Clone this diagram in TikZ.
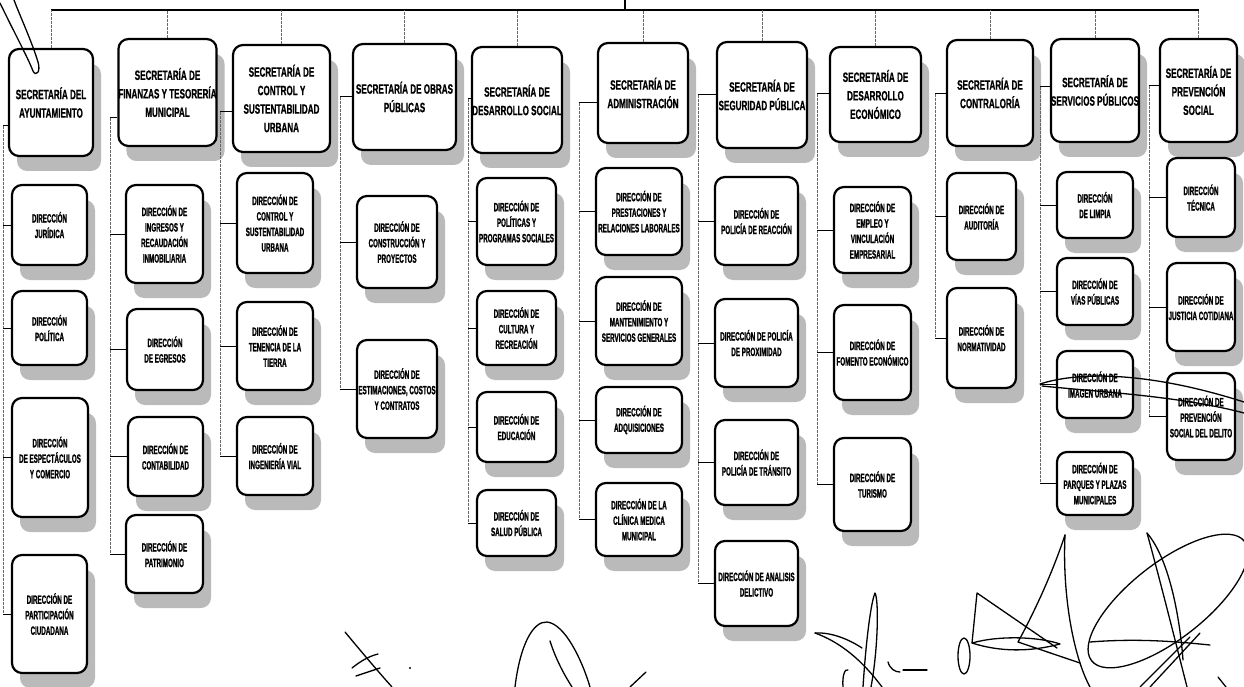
\documentclass[tikz,border=0pt]{standalone}
\usepackage{fontspec}
\newfontfamily\secf[FakeStretch=0.6,FakeBold=0.8]{Liberation Sans}
\newfontfamily\dirf[FakeStretch=0.52,FakeBold=1.2]{Liberation Sans}
\usetikzlibrary{shadows}
\tikzset{
 box/.style={draw=black, line width=2.2pt, rounded corners=10pt, fill=white, inner sep=0pt, align=center,
   drop shadow={shadow xshift=8pt, shadow yshift=-15pt, fill=black!27, opacity=1}},
 sec/.style={box, font=\secf\bfseries\fontsize{13.5}{18.5}\selectfont},
 dir/.style={box, font=\dirf\bfseries\fontsize{12}{15.5}\selectfont},
 trunk/.style={draw=black!60, line width=0.7pt, dash pattern=on 3pt off 1pt},
 tick/.style={draw=black, line width=1pt},
 barline/.style={draw=black, line width=1.3pt},
 ink/.style={draw=black, line width=1.3pt, line cap=round, line join=round},
}
\newcommand\mkbox[7]{%
 \pgfmathsetmacro\bxcx{(#2+#4)/2}%
 \pgfmathsetmacro\bxcy{(#3+#5)/2}%
 \pgfmathsetmacro\bxw{#4-#2}%
 \pgfmathsetmacro\bxh{#5-#3}%
 \node[#6, minimum width=\bxw pt, minimum height=\bxh pt] (#1) at (\bxcx,\bxcy) {#7};%
}
\begin{document}
\begin{tikzpicture}[x=1pt,y=-1pt]
\useasboundingbox (0,0) rectangle (1244,687);
% secretarias
\mkbox{s1}{9}{49}{93}{156}{sec}{SECRETARÍA DEL\\AYUNTAMIENTO}
\mkbox{s2}{120}{39}{215}{146}{sec}{SECRETARÍA DE\\FINANZAS Y TESORERÍA\\MUNICIPAL}
\mkbox{s3}{233}{45}{330}{152}{sec}{SECRETARÍA DE\\CONTROL Y\\SUSTENTABILIDAD\\URBANA}
\mkbox{s4}{353}{44}{456}{150}{sec}{SECRETARÍA DE OBRAS\\PÚBLICAS}
\mkbox{s5}{472}{47}{562}{153}{sec}{SECRETARÍA DE\\DESARROLLO SOCIAL}
\mkbox{s6}{598}{43}{688}{143}{sec}{SECRETARÍA DE\\ADMINISTRACIÓN}
\mkbox{s7}{717}{42}{807}{148}{sec}{SECRETARÍA DE\\SEGURIDAD PÚBLICA}
\mkbox{s8}{830}{47}{921}{142}{sec}{SECRETARÍA DE\\DESARROLLO\\ECONÓMICO}
\mkbox{s9}{947}{40}{1033}{146}{sec}{SECRETARÍA DE\\CONTRALORÍA}
\mkbox{s10}{1053}{39}{1137}{142}{sec}{SECRETARÍA DE\\SERVICIOS PÚBLICOS}
\mkbox{s11}{1160}{39}{1237}{142}{sec}{SECRETARÍA DE\\PREVENCIÓN\\SOCIAL}
% direcciones
\mkbox{c1a}{12}{185}{87}{265}{dir}{DIRECCIÓN\\JURÍDICA}
\mkbox{c1b}{12}{291}{87}{365}{dir}{DIRECCIÓN\\POLÍTICA}
\mkbox{c1c}{12}{398}{88}{517}{dir}{DIRECCIÓN\\DE ESPECTÁCULOS\\Y COMERCIO}
\mkbox{c1d}{12}{555}{87}{673}{dir}{DIRECCIÓN DE\\PARTICIPACIÓN\\CIUDADANA}
\mkbox{c2a}{126}{185}{203}{283}{dir}{DIRECCIÓN DE\\INGRESOS Y\\RECAUDACIÓN\\INMOBILIARIA}
\mkbox{c2b}{127}{309}{203}{390}{dir}{DIRECCIÓN\\DE EGRESOS}
\mkbox{c2c}{128}{417}{203}{496}{dir}{DIRECCIÓN DE\\CONTABILIDAD}
\mkbox{c2d}{126}{515}{203}{593}{dir}{DIRECCIÓN DE\\PATRIMONIO}
\mkbox{c3a}{237}{173}{313}{273}{dir}{DIRECCIÓN DE\\CONTROL Y\\SUSTENTABILIDAD\\URBANA}
\mkbox{c3b}{237}{302}{313}{390}{dir}{DIRECCIÓN DE\\TENENCIA DE LA\\TIERRA}
\mkbox{c3c}{237}{417}{313}{495}{dir}{DIRECCIÓN DE\\INGENIERÍA VIAL}
\mkbox{c4a}{357}{196}{437}{288}{dir}{DIRECCIÓN DE\\CONSTRUCCIÓN Y\\PROYECTOS}
\mkbox{c4b}{357}{340}{437}{438}{dir}{DIRECCIÓN DE\\ESTIMACIONES, COSTOS\\Y CONTRATOS}
\mkbox{c5a}{477}{178}{556}{265}{dir}{DIRECCIÓN DE\\POLÍTICAS Y\\PROGRAMAS SOCIALES}
\mkbox{c5b}{477}{291}{556}{365}{dir}{DIRECCIÓN DE\\CULTURA Y\\RECREACIÓN}
\mkbox{c5c}{477}{392}{556}{462}{dir}{DIRECCIÓN DE\\EDUCACIÓN}
\mkbox{c5d}{477}{490}{556}{556}{dir}{DIRECCIÓN DE\\SALUD PÚBLICA}
\mkbox{c6a}{596}{168}{682}{255}{dir}{DIRECCIÓN DE\\PRESTACIONES Y\\RELACIONES LABORALES}
\mkbox{c6b}{596}{277}{682}{365}{dir}{DIRECCIÓN DE\\MANTENIMIENTO Y\\SERVICIOS GENERALES}
\mkbox{c6c}{596}{387}{682}{453}{dir}{DIRECCIÓN DE\\ADQUISICIONES}
\mkbox{c6d}{596}{483}{682}{556}{dir}{DIRECCIÓN DE LA\\CLÍNICA MEDICA\\MUNICIPAL}
\mkbox{c7a}{715}{177}{798}{265}{dir}{DIRECCIÓN DE\\POLICÍA DE REACCIÓN}
\mkbox{c7b}{715}{299}{798}{387}{dir}{DIRECCIÓN DE POLICÍA\\DE PROXIMIDAD}
\mkbox{c7c}{715}{420}{798}{505}{dir}{DIRECCIÓN DE\\POLICÍA DE TRÁNSITO}
\mkbox{c7d}{715}{541}{798}{626}{dir}{DIRECCIÓN DE ANALISIS\\DELICTIVO}
\mkbox{c8a}{834}{187}{911}{273}{dir}{DIRECCIÓN DE\\EMPLEO Y\\VINCULACIÓN\\EMPRESARIAL}
\mkbox{c8b}{834}{305}{911}{400}{dir}{DIRECCIÓN DE\\FOMENTO ECONÓMICO}
\mkbox{c8c}{834}{438}{911}{531}{dir}{DIRECCIÓN DE\\TURISMO}
\mkbox{c9a}{947}{173}{1016}{260}{dir}{DIRECCIÓN DE\\AUDITORÍA}
\mkbox{c9b}{947}{288}{1016}{388}{dir}{DIRECCIÓN DE\\NORMATIVIDAD}
\mkbox{c10a}{1057}{172}{1133}{238}{dir}{DIRECCIÓN\\DE LIMPIA}
\mkbox{c10b}{1057}{258}{1133}{325}{dir}{DIRECCIÓN DE\\VÍAS PÚBLICAS}
\mkbox{c10c}{1057}{351}{1133}{418}{dir}{DIRECCIÓN DE\\IMAGEN URBANA}
\mkbox{c10d}{1057}{452}{1133}{515}{dir}{DIRECCIÓN DE\\PARQUES Y PLAZAS\\MUNICIPALES}
\mkbox{c11a}{1167}{158}{1235}{237}{dir}{DIRECCIÓN\\TÉCNICA}
\mkbox{c11b}{1167}{263}{1235}{351}{dir}{DIRECCIÓN DE\\JUSTICIA COTIDIANA}
\mkbox{c11c}{1167}{373}{1235}{460}{dir}{DIRECCIÓN DE\\PREVENCIÓN\\SOCIAL DEL DELITO}
% top bar
\coordinate (top) at (625,0);
\coordinate (bar) at (625,10);
\draw[barline] (s1.north |- bar) -- (s11.north |- bar);
\draw[barline] (top) -- (bar);
\foreach \i in {1,...,11} \draw[trunk] (s\i.north) -- (s\i.north |- bar);
% trunk points
\coordinate (k1) at (3,126);
\coordinate (k2) at (110,118);
\coordinate (k3) at (220,112);
\coordinate (k4) at (340,97);
\coordinate (k5) at (468,99);
\coordinate (k6) at (579,103);
\coordinate (k7) at (698,95);
\coordinate (k8) at (817,94);
\coordinate (k9) at (935,94);
\coordinate (k10) at (1040,87);
\coordinate (k11) at (1149,86);
\foreach \i in {1,...,11} \draw[tick] (k\i) -- (k\i -| s\i.west);
\draw[trunk] (k1) -- (k1 |- c1d.west);
\draw[trunk] (k2) -- (k2 |- c2d.west);
\draw[trunk] (k3) -- (k3 |- c3c.west);
\draw[trunk] (k4) -- (k4 |- c4b.west);
\draw[trunk] (k5) -- (k5 |- c5d.west);
\draw[trunk] (k6) -- (k6 |- c6d.west);
\draw[trunk] (k7) -- (k7 |- c7d.west);
\draw[trunk] (k8) -- (k8 |- c8c.west);
\draw[trunk] (k9) -- (k9 |- c9b.west);
\draw[trunk] (k10) -- (k10 |- c10d.west);
\draw[trunk] (k11) -- (k11 |- c11c.west);
\foreach \c in {c1a,c1b,c1c,c1d} \draw[tick] (\c.west) -- (\c.west -| k1);
\foreach \c in {c2a,c2b,c2c,c2d} \draw[tick] (\c.west) -- (\c.west -| k2);
\foreach \c in {c3a,c3b,c3c} \draw[tick] (\c.west) -- (\c.west -| k3);
\foreach \c in {c4a,c4b} \draw[tick] (\c.west) -- (\c.west -| k4);
\foreach \c in {c5a,c5b,c5c,c5d} \draw[tick] (\c.west) -- (\c.west -| k5);
\foreach \c in {c6a,c6b,c6c,c6d} \draw[tick] (\c.west) -- (\c.west -| k6);
\foreach \c in {c7a,c7b,c7c,c7d} \draw[tick] (\c.west) -- (\c.west -| k7);
\foreach \c in {c8a,c8b,c8c} \draw[tick] (\c.west) -- (\c.west -| k8);
\foreach \c in {c9a,c9b} \draw[tick] (\c.west) -- (\c.west -| k9);
\foreach \c in {c10a,c10b,c10c,c10d} \draw[tick] (\c.west) -- (\c.west -| k10);
\foreach \c in {c11a,c11b,c11c} \draw[tick] (\c.west) -- (\c.west -| k11);
% handwritten strokes
\draw[ink] (0,3) .. controls (14,32) and (28,58) .. (33,71) .. controls (36,77) and (41,72) .. (38,62) .. controls (32,42) and (20,16) .. (14,0);
\draw[ink] (1040,384) .. controls (1080,371) and (1150,372) .. (1244,402);
\draw[ink] (1042,386) .. controls (1100,392) and (1180,396) .. (1244,413);
% signature 1
\draw[ink] (345,632) .. controls (360,650) and (375,668) .. (392,687);
\draw[ink] (352,668) .. controls (362,660) and (370,656) .. (378,654);
\draw[ink] (356,676) -- (380,668);
\fill (410,668) circle (1.2);
% signature 2
\draw[ink] (515,687) .. controls (520,645) and (533,621) .. (547,622) .. controls (565,624) and (582,660) .. (590,687);
\draw[ink] (550,641) .. controls (556,660) and (565,676) .. (572,687);
\draw[ink] (630,687) -- (646,672);
% signature 3
\draw[ink] (863,687) .. controls (866,640) and (871,602) .. (875,593) .. controls (879,600) and (878,650) .. (871,687);
\draw[ink] (815,633) .. controls (840,642) and (862,660) .. (882,687);
\draw[ink] (815,633) .. controls (832,632) and (850,640) .. (862,648);
\draw[ink] (843,687) .. controls (842,676) and (845,668) .. (848,670);
\draw[ink] (888,662) .. controls (890,669) and (895,672) .. (900,672);
\draw[ink] (903,670) -- (927,670);
% signature 4
\draw[ink] (964,656) ellipse [x radius=6, y radius=18];
\draw[ink] (972,643) -- (977,593) -- (1057,648);
\draw[ink] (972,643) .. controls (1000,635) and (1040,637) .. (1060,644) .. controls (1030,652) and (1000,652) .. (972,643);
\draw[ink] (1065,535) .. controls (1050,580) and (1030,620) .. (1018,642) -- (1080,663);
\draw[ink] (1065,535) .. controls (1062,600) and (1075,660) .. (1090,687);
\draw[ink, rotate around={38:(1168,601)}] (1168,601) ellipse [x radius=97, y radius=38];
\draw[ink] (1147,533) .. controls (1160,580) and (1175,640) .. (1187,687);
\draw[ink] (1147,533) .. controls (1170,560) and (1180,620) .. (1183,660);
\draw[ink] (1090,642) .. controls (1140,638) and (1180,642) .. (1210,645);
\draw[ink] (1200,633) -- (1150,687);
\draw[ink] (1190,637) -- (1140,687);
\draw[ink] (1218,677) -- (1226,687);
\end{tikzpicture}
\end{document}
